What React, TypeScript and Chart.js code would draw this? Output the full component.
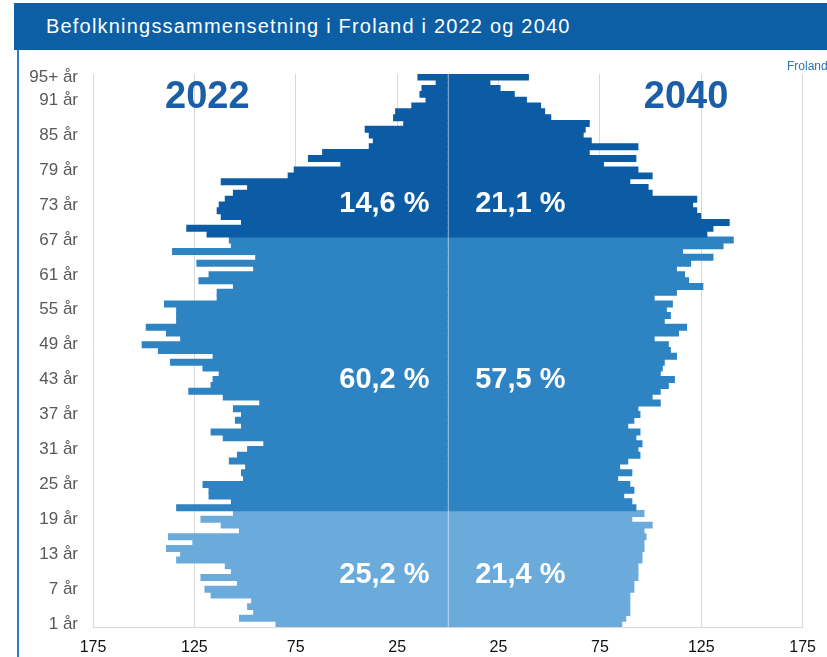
import React, { useEffect, useRef } from 'react';
import { Chart, registerables } from 'chart.js';

Chart.register(...registerables);

// Categories: age 1 .. 94, 95+ (index 0 = bottom row)
const ageLabels: string[] = Array.from({ length: 95 }, (_, i) => (i === 94 ? '95+ år' : `${i + 1} år`));

// Population 2022 (left side), index 0 = age 1
const pop2022 = [
  85, 103, 96, 99, 97, 117, 120, 104, 122, 107,
  110, 134, 132, 139, 126, 138, 103, 112, 122, 106,
  134, 107, 118, 118, 121, 101, 102, 100, 108, 104,
  99, 91, 111, 117, 102, 105, 102, 106, 93, 111,
  128, 117, 116, 113, 121, 137, 116, 143, 151, 132,
  139, 149, 134, 134, 134, 140, 114, 114, 106, 123,
  118, 96, 124, 95, 136, 107, 108, 119, 129, 102,
  112, 114, 113, 110, 106, 99, 112, 79, 76, 53,
  69, 62, 39, 37, 39, 41, 22, 27, 26, 18,
  11, 14, 13, 6, 15,
];

// Population 2040 (right side), index 0 = age 1
const pop2040 = [
  86, 88, 90, 90, 90, 90, 92, 92, 94, 94,
  94, 96, 96, 97, 97, 98, 97, 101, 91, 97,
  93, 91, 87, 92, 90, 84, 91, 85, 89, 95,
  94, 96, 93, 95, 89, 92, 95, 94, 105, 101,
  105, 109, 112, 105, 106, 107, 113, 110, 109, 102,
  114, 118, 107, 110, 108, 111, 102, 113, 126, 119,
  117, 113, 120, 131, 116, 136, 141, 128, 131, 139,
  125, 123, 121, 123, 101, 99, 90, 101, 94, 77,
  93, 70, 94, 71, 67, 68, 70, 51, 48, 46,
  39, 33, 26, 21, 40,
];

// Age groups: first row index of each group (0-19, 20-66, 67-94)
const groupStart = [0, 20, 67];
const pct2022 = ['25,2 %', '60,2 %', '14,6 %'];
const pct2040 = ['21,4 %', '57,5 %', '21,1 %'];
const yearLabels = ['2022', '2040'];
const xTickValues = [-175, -125, -75, -25, 25, 75, 125, 175];

const GROUP_COLORS = ['#6BABDC', '#2E83C2', '#0B5CA5'];
const FONT = "'Liberation Sans', Arial, Helvetica, sans-serif";

function rowColor(i: number): string {
  let g = 0;
  for (let k = 0; k < groupStart.length; k++) if (i >= groupStart[k]) g = k;
  return GROUP_COLORS[g];
}

const overlayPlugin = {
  id: 'overlay',
  afterDatasetsDraw(chart: any) {
    const { ctx, chartArea, scales } = chart;
    const xs = scales.x;
    const ys = scales.y;
    ctx.save();
    // centre line
    const cx = Math.round(xs.getPixelForValue(0)) + 0.5;
    ctx.strokeStyle = 'rgba(255,255,255,0.45)';
    ctx.lineWidth = 1;
    ctx.beginPath();
    ctx.moveTo(cx, chartArea.top);
    ctx.lineTo(cx, chartArea.bottom);
    ctx.stroke();

    // group percentages
    const pctRows = [8.78, 42.3, 72.5];
    const size = 29;
    ctx.font = `bold ${size}px ${FONT}`;
    ctx.fillStyle = '#ffffff';
    ctx.textBaseline = 'alphabetic';
    pctRows.forEach((r, k) => {
      const y = ys.getPixelForValue(r) + size * 0.358;
      ctx.textAlign = 'right';
      ctx.fillText(pct2022[k], xs.getPixelForValue(-9), y);
      ctx.textAlign = 'left';
      ctx.fillText(pct2040[k], xs.getPixelForValue(13.5), y);
    });

    // year labels
    const ys2 = 38;
    ctx.font = `bold ${ys2}px ${FONT}`;
    ctx.fillStyle = '#1B5EA8';
    ctx.textAlign = 'center';
    const yy = ys.getPixelForValue(91.07) + ys2 * 0.358;
    ctx.fillText(yearLabels[0], xs.getPixelForValue(-118.6), yy);
    ctx.fillText(yearLabels[1], xs.getPixelForValue(117.5), yy);
    ctx.restore();
  },
};

export default function App() {
  const canvasRef = useRef<HTMLCanvasElement | null>(null);

  useEffect(() => {
    const canvas = canvasRef.current;
    if (!canvas) return;
    const colors = ageLabels.map((_, i) => rowColor(i));
    const chart = new Chart(canvas, {
      type: 'bar',
      data: {
        labels: ageLabels,
        datasets: [
          {
            label: '2022',
            data: pop2022.map((v) => -v),
            backgroundColor: colors,
            borderWidth: 0,
            categoryPercentage: 1,
            barPercentage: 1.2,
          },
          {
            label: '2040',
            data: pop2040,
            backgroundColor: colors,
            borderWidth: 0,
            categoryPercentage: 1,
            barPercentage: 1.2,
          },
        ],
      },
      options: {
        indexAxis: 'y',
        animation: false,
        responsive: false,
        maintainAspectRatio: false,
        layout: { padding: { left: 0, right: 21, top: 74, bottom: 0 } },
        plugins: {
          legend: { display: false },
          tooltip: { enabled: false },
          title: { display: false },
        },
        scales: {
          x: {
            type: 'linear',
            min: -175,
            max: 175,
            stacked: true,
            afterBuildTicks: (s: any) => {
              s.ticks = xTickValues.map((v) => ({ value: v }));
            },
            afterFit: (s: any) => {
              s.height = 30;
            },
            ticks: {
              callback: (v: any) => String(Math.abs(Number(v))),
              font: { family: FONT, size: 16 },
              color: '#111111',
              padding: 11,
              maxRotation: 0,
              autoSkip: false,
            },
            grid: { color: '#d9d9d9', drawTicks: false, lineWidth: 1 },
            border: { display: true, color: '#d9d9d9' },
          },
          y: {
            type: 'category',
            reverse: true,
            stacked: true,
            afterFit: (s: any) => {
              s.width = 93;
            },
            grid: { display: false, drawTicks: false },
            border: { display: false },
            ticks: {
              autoSkip: false,
              font: { family: FONT, size: 17 },
              color: '#595959',
              padding: 15,
              callback: (_v: any, i: number) => (i % 6 === 0 || i === 94 ? ageLabels[i] : ''),
            },
          },
        },
      },
      plugins: [overlayPlugin],
    } as any);
    return () => chart.destroy();
  }, []);

  return (
    <div style={{ position: 'fixed', left: 0, top: 0, width: 827, height: 657, background: '#ffffff', overflow: 'hidden' }}>
      <canvas ref={canvasRef} width={827} height={657} style={{ position: 'absolute', left: 0, top: 0, width: 827, height: 657 }} />
      <div
        style={{
          position: 'absolute',
          left: 14,
          top: 3,
          width: 813,
          height: 47,
          background: '#0C5EA5',
          color: '#ffffff',
          fontFamily: FONT,
          fontSize: 20,
          letterSpacing: '1.2px',
          lineHeight: '47px',
          paddingLeft: 32,
          boxSizing: 'border-box',
          whiteSpace: 'nowrap',
        }}
      >
        Befolkningssammensetning i Froland i 2022 og 2040
      </div>
      <div style={{ position: 'absolute', left: 17, top: 50, width: 2, height: 607, background: '#2F7CC0' }} />
      <div
        style={{
          position: 'absolute',
          left: 787,
          top: 59,
          fontFamily: FONT,
          fontSize: 12,
          color: '#2E75B6',
          whiteSpace: 'nowrap',
        }}
      >
        Froland kommune
      </div>
    </div>
  );
}
